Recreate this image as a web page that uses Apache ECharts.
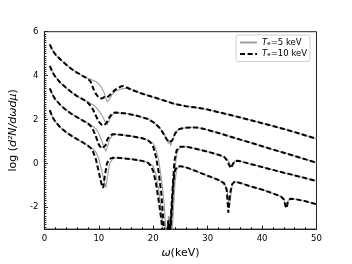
<!DOCTYPE html>
<html>
<head>
<meta charset="utf-8">
<script src="https://cdn.jsdelivr.net/npm/echarts@6/dist/echarts.min.js"></script>
<style>html,body{margin:0;padding:0;background:#fff}#c{width:352px;height:264px}</style>
</head>
<body>
<div id="c"></div>
<script>
// ---- data ----
const xTicks = [0, 10, 20, 30, 40, 50];
const yTicks = [-2, 0, 2, 4, 6];
const legendNames = ['Te=5 keV', 'Te=10 keV'];

// Curve A (top)
const a5 = [[1,5.42],[1.5,5.15],[2,4.97],[3,4.72],[4,4.5],[5,4.3],[6,4.13],[7,3.99],[8,3.88],[9,3.78],[9.5,3.72],[10,3.62],[10.5,3.45],[11,3.2],[11.3,2.95],[11.6,2.8],[12,2.95],[12.5,3.15],[13,3.28],[14,3.38],[15,3.42],[16,3.35],[18,3.17],[20,3.02],[22,2.86],[24,2.7],[26,2.6],[28,2.54],[30,2.45],[32,2.33],[34,2.21],[36,2.09],[38,1.96],[40,1.83],[42,1.7],[44,1.56],[46,1.42],[48,1.27],[50,1.12]];
const a10 = [[1,5.42],[1.5,5.15],[2,4.97],[3,4.72],[4,4.5],[5,4.3],[6,4.13],[7,3.99],[8,3.86],[8.5,3.72],[9,3.4],[9.5,3.15],[10,3.0],[10.5,2.95],[11,3.02],[11.5,3.0],[12,3.1],[13,3.35],[14,3.5],[14.5,3.52],[15,3.47],[16,3.36],[18,3.17],[20,3.02],[22,2.86],[24,2.7],[26,2.6],[28,2.54],[30,2.45],[32,2.33],[34,2.21],[36,2.09],[38,1.96],[40,1.83],[42,1.7],[44,1.56],[46,1.42],[48,1.27],[50,1.12]];

// Curve B
const b5 = [[1,4.44],[1.5,4.15],[2,3.95],[3,3.66],[4,3.44],[5,3.24],[6,3.06],[7,2.93],[8,2.8],[9,2.66],[9.5,2.55],[10,2.4],[10.5,2.22],[11,1.98],[11.5,1.76],[11.8,1.85],[12.2,2.1],[12.7,2.25],[13.5,2.3],[15,2.27],[17,2.17],[19,2.02],[20,1.88],[21,1.68],[21.5,1.52],[22,1.33],[22.5,1.1],[22.8,0.9],[23,1.05],[23.2,0.8],[23.4,1.0],[23.7,1.15],[24,1.35],[24.5,1.5],[25,1.58],[26,1.62],[27,1.64],[28,1.63],[29,1.59],[30,1.52],[32,1.38],[34,1.23],[36,1.08],[38,0.93],[40,0.78],[42,0.63],[44,0.48],[46,0.33],[48,0.18],[50,0.03]];
const b10 = [[1,4.44],[1.5,4.15],[2,3.95],[3,3.66],[4,3.44],[5,3.24],[6,3.06],[7,2.93],[7.5,2.86],[8,2.76],[8.5,2.62],[9,2.42],[9.5,2.15],[10,1.9],[10.5,1.76],[11,1.73],[11.5,1.88],[12,2.12],[12.5,2.28],[13,2.32],[14,2.3],[15,2.27],[17,2.17],[19,2.02],[20,1.88],[21,1.66],[21.5,1.5],[22,1.3],[22.5,1.08],[23,0.95],[23.5,1.05],[24,1.35],[24.5,1.52],[25,1.58],[26,1.62],[27,1.64],[28,1.63],[29,1.59],[30,1.52],[32,1.38],[34,1.23],[36,1.08],[38,0.93],[40,0.78],[42,0.63],[44,0.48],[46,0.33],[48,0.18],[50,0.03]];

// Curve C
const c5 = [[1,3.42],[1.5,3.12],[2,2.92],[3,2.64],[4,2.43],[5,2.25],[6,2.1],[7,1.96],[8,1.83],[9,1.68],[9.5,1.56],[10,1.36],[10.5,1.05],[11,0.72],[11.3,0.55],[11.6,0.75],[12,1.1],[12.5,1.27],[13,1.32],[14,1.3],[16,1.24],[18,1.14],[19,1.06],[20,0.92],[20.5,0.65],[21,0.15],[21.5,-0.7],[22,-1.8],[22.4,-3.3],[22.7,-2.6],[22.9,-3.3],[23.1,-2.5],[23.3,-3.3],[23.6,-1.6],[24,-0.2],[24.4,0.5],[25,0.76],[26,0.76],[27,0.71],[28,0.65],[30,0.53],[32,0.39],[33,0.3],[33.5,0.2],[34,0.02],[34.3,-0.17],[34.6,-0.08],[35,0.1],[35.5,0.12],[36,0.09],[38,-0.04],[40,-0.17],[42,-0.3],[44,-0.43],[46,-0.55],[48,-0.68],[50,-0.81]];
const c10 = [[1,3.42],[1.5,3.12],[2,2.92],[3,2.64],[4,2.43],[5,2.25],[6,2.1],[7,1.96],[8,1.81],[8.5,1.7],[9,1.5],[9.5,1.2],[10,0.85],[10.5,0.68],[10.8,0.65],[11.2,0.8],[11.6,1.1],[12,1.25],[12.5,1.32],[13,1.33],[14,1.3],[16,1.24],[18,1.14],[19,1.05],[19.5,0.95],[20,0.75],[20.5,0.3],[21,-0.4],[21.5,-1.4],[21.8,-2.4],[22.1,-3.3],[22.5,-3.3],[22.8,-2.8],[23,-3.3],[23.3,-2.2],[23.6,-1.0],[23.9,0.1],[24.3,0.6],[25,0.76],[26,0.76],[27,0.71],[28,0.65],[30,0.53],[32,0.39],[33,0.3],[33.5,0.15],[34,-0.1],[34.3,-0.22],[34.6,-0.05],[35,0.1],[35.5,0.12],[36,0.09],[38,-0.04],[40,-0.17],[42,-0.3],[44,-0.43],[46,-0.55],[48,-0.68],[50,-0.81]];

// Curve D (bottom)
const d5 = [[1,2.42],[1.5,2.1],[2,1.9],[3,1.62],[4,1.42],[5,1.25],[6,1.1],[7,0.96],[8,0.82],[9,0.65],[9.5,0.5],[10,0.2],[10.5,-0.3],[11,-0.85],[11.3,-1.1],[11.6,-0.6],[12,0.0],[12.5,0.18],[13,0.24],[14,0.24],[16,0.19],[18,0.11],[19,0.04],[20,-0.12],[20.5,-0.5],[21,-1.2],[21.5,-2.2],[21.9,-3.3],[22.6,-3.3],[22.8,-2.4],[23,-3.3],[23.2,-2.2],[23.4,-3.3],[23.7,-2.2],[24,-0.9],[24.3,-0.3],[24.7,-0.14],[25,-0.13],[26,-0.18],[28,-0.37],[30,-0.57],[31,-0.66],[32,-0.76],[33,-0.9],[33.5,-1.15],[33.8,-1.7],[34,-2.0],[34.2,-1.6],[34.5,-1.0],[35,-0.83],[36,-0.9],[38,-1.06],[40,-1.2],[42,-1.37],[43.5,-1.52],[44,-1.65],[44.3,-1.9],[44.5,-1.98],[44.8,-1.7],[45.2,-1.62],[46,-1.63],[48,-1.73],[50,-1.87]];
const d10 = [[1,2.42],[1.5,2.1],[2,1.9],[3,1.62],[4,1.42],[5,1.25],[6,1.1],[7,0.96],[8,0.8],[8.5,0.7],[9,0.5],[9.5,0.15],[10,-0.4],[10.5,-0.95],[10.8,-1.12],[11.1,-0.6],[11.5,0.0],[12,0.2],[12.5,0.25],[13,0.26],[14,0.24],[16,0.19],[18,0.11],[19,0.03],[19.5,-0.1],[20,-0.35],[20.5,-0.9],[21,-1.7],[21.5,-2.6],[21.8,-3.3],[22.5,-3.3],[22.8,-2.6],[23.1,-3.3],[23.4,-2.2],[23.7,-0.9],[24,-0.3],[24.5,-0.14],[25,-0.13],[26,-0.18],[28,-0.37],[30,-0.57],[31,-0.66],[32,-0.76],[33,-0.9],[33.5,-1.2],[33.8,-2.25],[34.1,-1.4],[34.5,-0.95],[35,-0.83],[36,-0.9],[38,-1.06],[40,-1.2],[42,-1.37],[43.5,-1.52],[44,-1.65],[44.3,-1.95],[44.5,-2.05],[44.8,-1.7],[45.2,-1.62],[46,-1.63],[48,-1.73],[50,-1.87]];

const gray5 = [a5, b5, c5, d5];
const black10 = [a10, b10, c10, d10];

// ---- chart ----
const FONT = 'DejaVu Sans';
const chart = echarts.init(document.getElementById('c'), null, {renderer: 'canvas'});
const series = [];
gray5.forEach(d => series.push({
  name: legendNames[0], type: 'line', data: d, symbol: 'none', showSymbol: false,
  z: 2, lineStyle: {color: '#9e9e9e', width: 1.1}, itemStyle: {color: '#9e9e9e'}
}));
black10.forEach(d => series.push({
  name: legendNames[1], type: 'line', data: d, symbol: 'none', showSymbol: false,
  z: 3, lineStyle: {color: '#000', width: 2, type: [5, 2.6]}, itemStyle: {color: '#000'}
}));

chart.setOption({
  animation: false,
  backgroundColor: '#fff',
  grid: {left: 44, right: 35.5, top: 31.7, bottom: 29.3, show: true, borderColor: '#222', borderWidth: 1, backgroundColor: 'transparent'},
  legend: {
    data: legendNames, orient: 'vertical', left: 236, top: 35,
    padding: [3, 3, 3, 3], itemWidth: 17, itemHeight: 9, itemGap: 2.5,
    itemStyle: {opacity: 0},
    backgroundColor: '#fff', borderColor: '#d0d0d0', borderWidth: 1, borderRadius: 2,
    textStyle: {fontFamily: FONT, fontSize: 8.5, color: '#000',
      rich: {i: {fontStyle: 'italic', fontSize: 8.5, fontFamily: FONT}, n: {fontSize: 8.5, fontFamily: FONT}}},
    formatter: function (name) {
      const num = name === legendNames[0] ? '5' : '10';
      return '{i|T\u2091}{n|=' + num + ' keV}';
    }
  },
  xAxis: {
    type: 'value', min: xTicks[0], max: xTicks[xTicks.length - 1], interval: 10,
    name: '{i|\u03c9}{n|(keV)}', nameLocation: 'middle', nameGap: 17,
    nameTextStyle: {fontFamily: FONT, fontSize: 11, color: '#000',
      rich: {i: {fontStyle: 'italic', fontSize: 11, fontFamily: FONT}, n: {fontSize: 11, fontFamily: FONT}}},
    axisLine: {onZero: false, lineStyle: {color: '#222', width: 1}},
    axisTick: {inside: true, length: 3.5, lineStyle: {color: '#222'}},
    minorTick: {show: true, splitNumber: 5, length: 2, lineStyle: {color: '#222'}},
    axisLabel: {fontFamily: FONT, fontSize: 8.5, color: '#000', margin: 5},
    splitLine: {show: false}
  },
  yAxis: [{
    type: 'value', min: -3, max: 6, splitNumber: 5,
    name: '{n|log (}{i|d\u00b2N/d\u03c9d\u03bc}{n|)}', nameLocation: 'middle', nameGap: 20, nameRotate: 90,
    nameTextStyle: {fontFamily: FONT, fontSize: 11, color: '#000',
      rich: {i: {fontStyle: 'italic', fontSize: 11, fontFamily: FONT}, n: {fontSize: 11, fontFamily: FONT}}},
    axisLine: {show: true, onZero: false, lineStyle: {color: '#222', width: 1}},
    axisTick: {show: true, inside: true, length: 3.5, lineStyle: {color: '#222'}},
    axisLabel: {fontFamily: FONT, fontSize: 8.5, color: '#000', margin: 6,
      formatter: v => (yTicks.indexOf(v) >= 0 ? String(v) : '')},
    splitLine: {show: false}
  }, {
    type: 'value', min: -3, max: 6, interval: 0.1, position: 'left',
    axisLine: {show: false, onZero: false}, axisLabel: {show: false}, splitLine: {show: false},
    axisTick: {show: true, inside: true, length: 2, lineStyle: {color: '#222', width: 1}}
  }],
  series: series
});
</script>
</body>
</html>
